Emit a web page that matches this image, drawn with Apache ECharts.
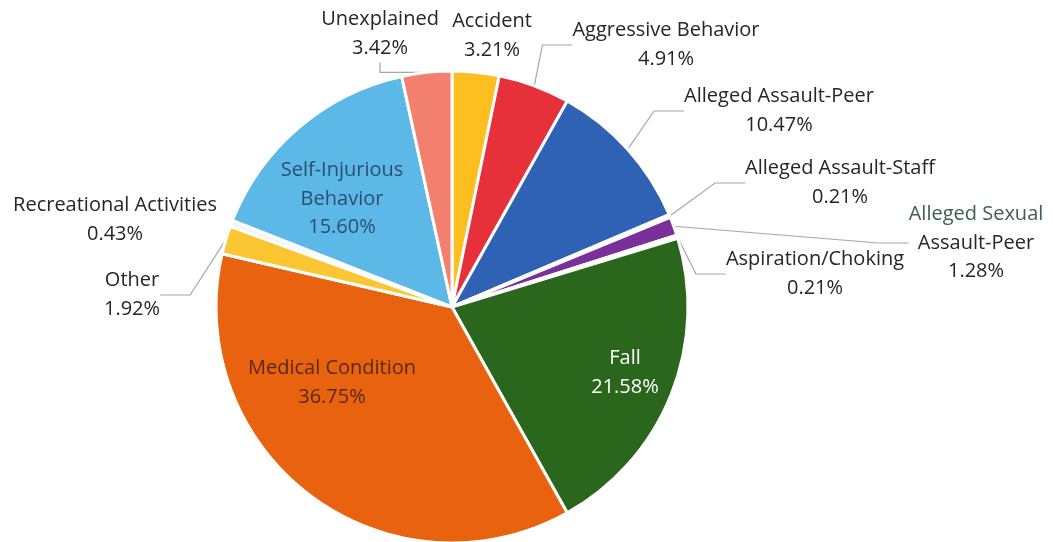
<!DOCTYPE html>
<html>
<head>
<meta charset="utf-8">
<script src="https://cdn.jsdelivr.net/npm/echarts@6/dist/echarts.min.js"></script>
<style>
  html, body { margin: 0; padding: 0; background: #fff; }
  #chart { width: 1053px; height: 542px; }
</style>
</head>
<body>
<div id="chart"></div>
<script>
// Incident categories, clockwise from 12 o'clock
const categories = [
  'Accident',
  'Aggressive Behavior',
  'Alleged Assault-Peer',
  'Alleged Assault-Staff',
  'Alleged Sexual Assault-Peer',
  'Aspiration/Choking',
  'Fall',
  'Medical Condition',
  'Other',
  'Recreational Activities',
  'Self-Injurious Behavior',
  'Unexplained'
];
// Share of incidents, percent
const percents = [3.21, 4.91, 10.47, 0.21, 1.28, 0.21, 21.58, 36.75, 1.92, 0.43, 15.60, 3.42];

const colors = [
  '#FDBE1F', '#E6313B', '#2F62B4', '#3E6DBD', '#7A2F9B', '#2D6A1F',
  '#2A661C', '#E8620F', '#FCC632', '#F4F4F4', '#5CB8E6', '#F37F6E'
];

// Label placement (block centres) and per-label styling
const labelSpots = {
  'Accident': [492, 36],
  'Aggressive Behavior': [666, 45],
  'Alleged Assault-Peer': [779, 111],
  'Alleged Assault-Staff': [840, 183],
  'Alleged Sexual Assault-Peer': [976, 243],
  'Aspiration/Choking': [815, 274],
  'Fall': [625, 373],
  'Medical Condition': [332, 383],
  'Other': [132, 295],
  'Recreational Activities': [115, 220],
  'Self-Injurious Behavior': [342, 199],
  'Unexplained': [380, 34]
};
const lineBreaks = {
  'Self-Injurious Behavior': 'Self-Injurious\nBehavior',
  'Alleged Sexual Assault-Peer': '{teal|Alleged Sexual}\nAssault-Peer'
};
const insideColors = {
  'Fall': '#FFFFFF',
  'Medical Condition': '#5A2A0C',
  'Self-Injurious Behavior': '#2B4F6E'
};
const noLine = { 'Accident': true, 'Recreational Activities': true, 'Fall': true, 'Medical Condition': true, 'Self-Injurious Behavior': true };

const data = categories.map((name, i) => {
  const item = {
    name: name,
    value: percents[i],
    itemStyle: { color: colors[i] }
  };
  if (insideColors[name]) item.label = { color: insideColors[name] };
  if (noLine[name]) item.labelLine = { show: false };
  return item;
});

const chart = echarts.init(document.getElementById('chart'), null, { renderer: 'canvas' });
chart.setOption({
  animation: false,
  backgroundColor: '#ffffff',
  series: [{
    type: 'pie',
    center: [452, 307],
    radius: 236,
    startAngle: 90,
    clockwise: true,
    avoidLabelOverlap: false,
    data: data,
    itemStyle: { borderColor: '#ffffff', borderWidth: 3 },
    label: {
      show: true,
      position: 'outside',
      fontFamily: 'Open Sans',
      fontSize: 20,
      lineHeight: 28.5,
      color: '#262626',
      align: 'center',
      formatter: p => (lineBreaks[p.name] || p.name) + '\n' + p.value.toFixed(2) + '%',
      rich: {
        teal: { color: '#3F5D55', fontFamily: 'Open Sans', fontSize: 20, lineHeight: 28.5 }
      }
    },
    labelLine: {
      show: true,
      lineStyle: { color: '#A6A6A6', width: 1.2 }
    },
    labelLayout: params => {
      const spot = labelSpots[categories[params.dataIndex]];
      return { x: spot[0], y: spot[1], align: 'center', verticalAlign: 'middle' };
    }
  }]
});
</script>
</body>
</html>
